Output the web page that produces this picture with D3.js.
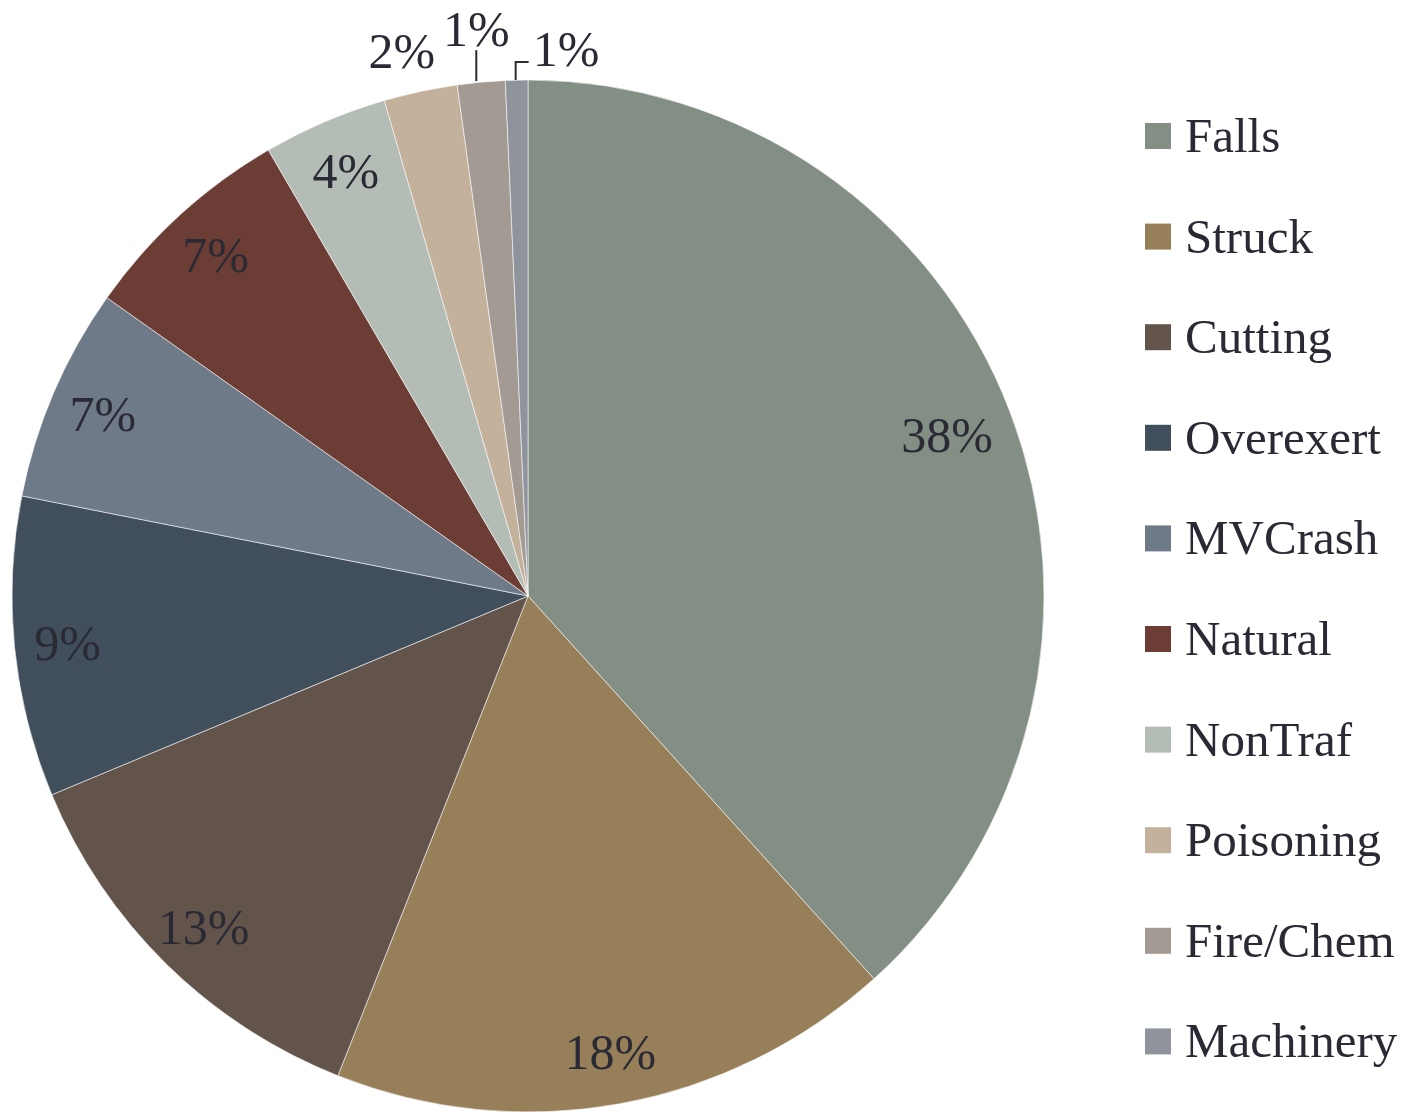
<!DOCTYPE html>
<html>
<head>
<meta charset="utf-8">
<script src="https://cdn.jsdelivr.net/npm/d3@7/dist/d3.min.js"></script>
<style>
  html, body { margin: 0; padding: 0; background: #ffffff; }
  svg { display: block; }
</style>
</head>
<body>
<svg id="chart" width="1412" height="1112"></svg>
<script>
const categories = ["Falls", "Struck", "Cutting", "Overexert", "MVCrash", "Natural", "NonTraf", "Poisoning", "Fire/Chem", "Machinery"];
const values = [38.3, 17.7, 12.7, 9.4, 6.7, 6.8, 3.9, 2.3, 1.49, 0.7];
const colors = ["#838f85", "#977f5a", "#63544b", "#414f5c", "#6f7a89", "#6c3d35", "#b4bcb6", "#c4b19c", "#a39a93", "#8e939c"];

const W = 1412, H = 1112;
const cx = 528, cy = 596, R = 516;
const textColor = "#2a2a35";
const fontFamily = "'Liberation Serif', 'Times New Roman', serif";
const labelSize = 50;

const svg = d3.select("#chart");
const total = d3.sum(values);
const fmt = d3.format(".0%");

const data = categories.map((c, i) => ({ name: c, value: values[i], color: colors[i] }));
const pie = d3.pie().sort(null).value(d => d.value).startAngle(0).endAngle(2 * Math.PI);
const arcs = pie(data);
const arc = d3.arc().innerRadius(0).outerRadius(R);

const g = svg.append("g").attr("transform", `translate(${cx},${cy})`);

g.selectAll("path.slice")
  .data(arcs)
  .enter().append("path")
  .attr("class", "slice")
  .attr("d", arc)
  .attr("fill", d => d.data.color)
  .attr("stroke", "#ffffff")
  .attr("stroke-opacity", 0.55)
  .attr("stroke-width", 1);

const polar = (a, r) => [Math.sin(a) * r, -Math.cos(a) * r];
const mid = d => (d.startAngle + d.endAngle) / 2;

// inside labels (largest slice label sits a little further in)
const inside = arcs.filter(d => d.value / total >= 0.03);
g.selectAll("text.inlabel")
  .data(inside)
  .enter().append("text")
  .attr("class", "inlabel")
  .attr("transform", d => {
    const f = (d.value / total > 0.3) ? 0.87 : 0.897;
    const c = polar(mid(d), R * f);
    return `translate(${c[0]},${c[1]})`;
  })
  .attr("text-anchor", "middle")
  .attr("dy", "0.35em")
  .attr("font-family", fontFamily)
  .attr("font-size", labelSize)
  .attr("fill", textColor)
  .text(d => fmt(d.value / total));

// outside labels for small slices
const outside = arcs.filter(d => d.value / total < 0.03);
outside.forEach((d, k) => {
  const label = fmt(d.value / total);
  const m = mid(d);
  const edge = polar(m, R);
  if (k === 0) {
    const p = polar(m, R * 1.08);
    g.append("text")
      .attr("x", p[0] - 10).attr("y", p[1])
      .attr("text-anchor", "middle").attr("dy", "0.35em")
      .attr("font-family", fontFamily).attr("font-size", labelSize)
      .attr("fill", textColor).text(label);
  } else if (k === 1) {
    const p = polar(m, R * 1.105);
    const lx = p[0];
    g.append("line")
      .attr("x1", lx).attr("y1", edge[1] - 1)
      .attr("x2", lx).attr("y2", p[1] + 22)
      .attr("stroke", "#2a2a35").attr("stroke-width", 2);
    g.append("text")
      .attr("x", lx).attr("y", p[1])
      .attr("text-anchor", "middle").attr("dy", "0.35em")
      .attr("font-family", fontFamily).attr("font-size", labelSize)
      .attr("fill", textColor).text(label);
  } else {
    const ex = edge[0] - 1, ey = edge[1];
    const ty = ey - 18, tx = ex + 13;
    g.append("path")
      .attr("d", `M${ex},${ey}V${ty}H${tx}`)
      .attr("fill", "none")
      .attr("stroke", "#2a2a35").attr("stroke-width", 2);
    g.append("text")
      .attr("x", tx + 4).attr("y", ty - 14)
      .attr("text-anchor", "start").attr("dy", "0.35em")
      .attr("font-family", fontFamily).attr("font-size", labelSize)
      .attr("fill", textColor).text(label);
  }
});

// legend
const legend = svg.append("g").attr("transform", "translate(1145,136)");
const rowH = 100.6;
const items = legend.selectAll("g.item")
  .data(data)
  .enter().append("g")
  .attr("class", "item")
  .attr("transform", (d, i) => `translate(0,${i * rowH})`);
items.append("rect")
  .attr("x", 0).attr("y", -13)
  .attr("width", 26).attr("height", 26)
  .attr("fill", d => d.color);
items.append("text")
  .attr("x", 40).attr("y", 16)
  .attr("font-family", fontFamily)
  .attr("font-size", 49)
  .attr("fill", textColor)
  .text(d => d.name);
</script>
</body>
</html>
